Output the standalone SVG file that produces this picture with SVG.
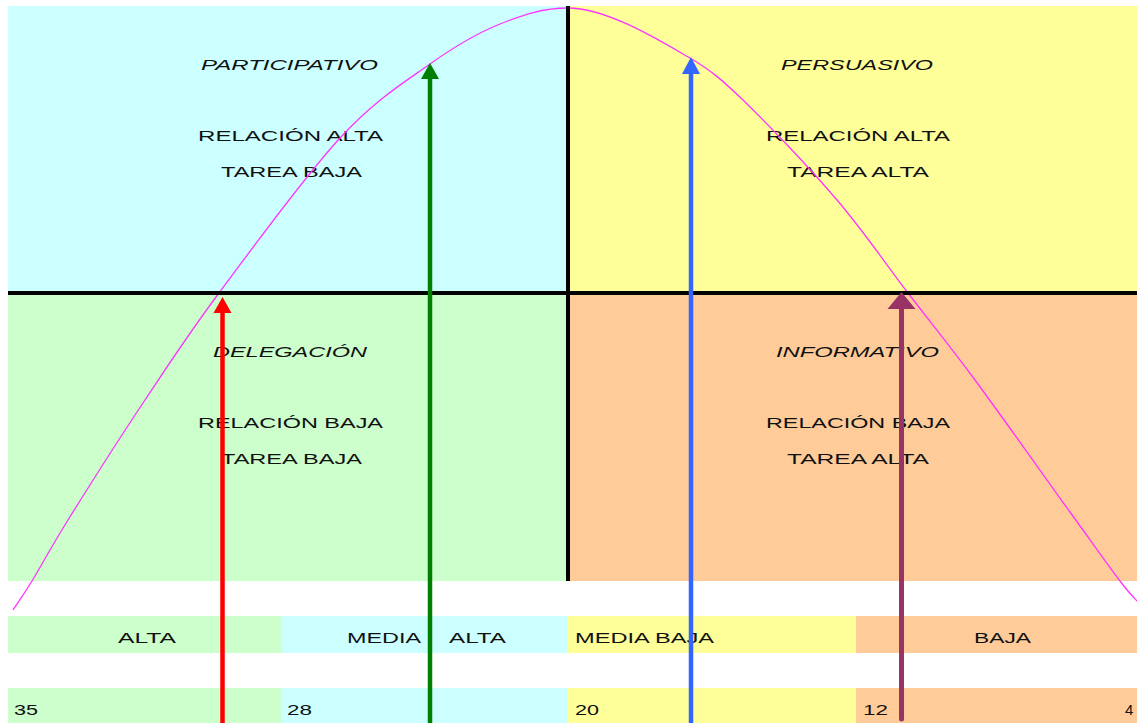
<svg xmlns="http://www.w3.org/2000/svg" width="1137" height="723" viewBox="0 0 1137 723">
<style>
  .t { font-family: "Liberation Sans", Arial, sans-serif; font-size: 15px; fill: #111; }
  .i { font-style: italic; }
  .axis { stroke: #000; stroke-width: 4; fill: none; }
  .curve { stroke: #FF33FF; stroke-width: 1.3; fill: none; }
  .cy { fill: #CCFFFF; } .ye { fill: #FFFF99; } .gr { fill: #CCFFCC; } .or { fill: #FFCC99; }
</style>
<rect width="1137" height="723" fill="#fff"/>
<g id="q-participativo">
  <rect class="cy" x="8" y="6" width="560" height="287"/>
  <text class="t i" x="201" y="70" textLength="177" lengthAdjust="spacingAndGlyphs">PARTICIPATIVO</text>
  <text class="t" x="198" y="141" textLength="185" lengthAdjust="spacingAndGlyphs">RELACIÓN ALTA</text>
  <text class="t" x="221" y="177" textLength="141" lengthAdjust="spacingAndGlyphs">TAREA BAJA</text>
</g>
<g id="q-persuasivo">
  <rect class="ye" x="568" y="6" width="569" height="287"/>
  <text class="t i" x="781" y="70" textLength="152" lengthAdjust="spacingAndGlyphs">PERSUASIVO</text>
  <text class="t" x="766" y="141" textLength="184" lengthAdjust="spacingAndGlyphs">RELACIÓN ALTA</text>
  <text class="t" x="787" y="177" textLength="142" lengthAdjust="spacingAndGlyphs">TAREA ALTA</text>
</g>
<g id="q-delegacion">
  <rect class="gr" x="8" y="293" width="560" height="288"/>
  <text class="t i" x="213" y="357" textLength="154" lengthAdjust="spacingAndGlyphs">DELEGACIÓN</text>
  <text class="t" x="198" y="428" textLength="185" lengthAdjust="spacingAndGlyphs">RELACIÓN BAJA</text>
  <text class="t" x="221" y="464" textLength="141" lengthAdjust="spacingAndGlyphs">TAREA BAJA</text>
</g>
<g id="q-informativo">
  <rect class="or" x="568" y="293" width="569" height="288"/>
  <text class="t i" x="776" y="357" textLength="163" lengthAdjust="spacingAndGlyphs">INFORMATIVO</text>
  <text class="t" x="766" y="428" textLength="184" lengthAdjust="spacingAndGlyphs">RELACIÓN BAJA</text>
  <text class="t" x="787" y="464" textLength="142" lengthAdjust="spacingAndGlyphs">TAREA ALTA</text>
</g>
<g id="scale-labels">
  <rect class="gr" x="8" y="616" width="273" height="37"/>
  <rect class="cy" x="281" y="616" width="287" height="37"/>
  <rect class="ye" x="568" y="616" width="288" height="37"/>
  <rect class="or" x="856" y="616" width="281" height="37"/>
  <text class="t" x="118" y="643" textLength="58" lengthAdjust="spacingAndGlyphs">ALTA</text>
  <text class="t" x="347" y="643" textLength="74" lengthAdjust="spacingAndGlyphs">MEDIA</text>
  <text class="t" x="449" y="643" textLength="57" lengthAdjust="spacingAndGlyphs">ALTA</text>
  <text class="t" x="575" y="643" textLength="139" lengthAdjust="spacingAndGlyphs">MEDIA BAJA</text>
  <text class="t" x="974" y="643" textLength="57" lengthAdjust="spacingAndGlyphs">BAJA</text>
</g>
<g id="scale-numbers">
  <rect class="gr" x="8" y="688" width="273" height="35"/>
  <rect class="cy" x="281" y="688" width="287" height="35"/>
  <rect class="ye" x="568" y="688" width="288" height="35"/>
  <rect class="or" x="856" y="688" width="281" height="35"/>
  <text class="t" x="14" y="715" textLength="24" lengthAdjust="spacingAndGlyphs">35</text>
  <text class="t" x="287" y="715" textLength="25" lengthAdjust="spacingAndGlyphs">28</text>
  <text class="t" x="575" y="715" textLength="24" lengthAdjust="spacingAndGlyphs">20</text>
  <text class="t" x="863" y="715" textLength="25" lengthAdjust="spacingAndGlyphs">12</text>
  <text class="t" x="1125" y="715">4</text>
</g>
<g id="connectors">
  <path class="curve" d="M13,610 C16.2,605.2 22.8,596 32,581 C41.2,566 49.2,550.2 68,520 C86.8,489.8 119.8,437.8 145,400 C170.2,362.2 186.5,336.7 219,293 C251.5,249.3 304.8,176.2 340,138 C375.2,99.8 403.3,83 430,64 C456.7,45 477,33.3 500,24 C523,14.7 543,8 568,8 C608,8 662,42 690,58 C712,71 722,80 743,100 C767.5,123.7 809.5,167.8 837,200 C864.5,232.2 885,263 908,293 C931,323 948,343.5 975,380 C1002,416.5 1045.8,478.5 1070,512 C1094.2,545.5 1108.8,566.2 1120,581 C1131.2,595.8 1134.2,597.7 1137,601"/>
  <line class="axis" x1="568" y1="6" x2="568" y2="581"/>
  <line class="axis" x1="8" y1="293" x2="1137" y2="293"/>
  <g id="arrow-red">
    <line x1="222.5" y1="723" x2="222.5" y2="310" stroke="#FF0000" stroke-width="4.5"/>
    <polygon points="222.5,297 231.5,313 213.5,313" fill="#FF0000"/>
  </g>
  <g id="arrow-green">
    <line x1="430" y1="723" x2="430" y2="76" stroke="#008000" stroke-width="4.5"/>
    <polygon points="430,63 439,79 421,79" fill="#008000"/>
  </g>
  <g id="arrow-blue">
    <line x1="691" y1="723" x2="691" y2="71" stroke="#3366FF" stroke-width="4.5"/>
    <polygon points="691,57 700,74 682,74" fill="#3366FF"/>
  </g>
  <g id="arrow-purple">
    <line x1="901.5" y1="719" x2="901.5" y2="306" stroke="#993366" stroke-width="5" stroke-linecap="round"/>
    <polygon points="901.5,292 915.5,309 887.5,309" fill="#993366"/>
  </g>
</g>
</svg>
